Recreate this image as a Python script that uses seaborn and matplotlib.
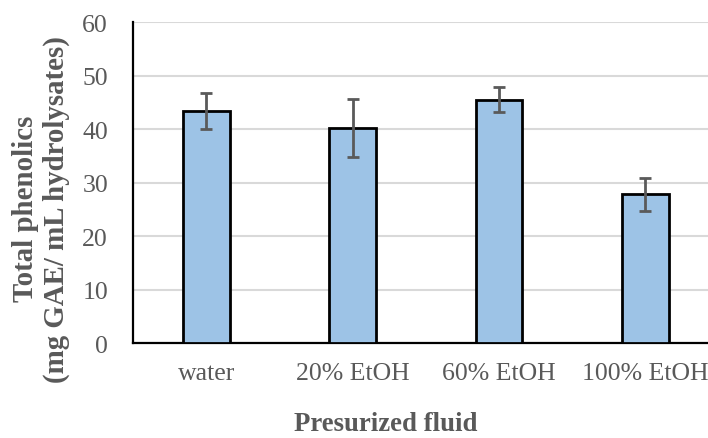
import matplotlib
matplotlib.use("Agg")
import matplotlib.pyplot as plt
import seaborn as sns
import numpy as np
import pandas as pd

categories = ["water", "20% EtOH", "60% EtOH", "100% EtOH"]
values = [43.4, 40.2, 45.5, 27.8]
errors = [3.4, 5.4, 2.3, 3.1]
yticks = [0, 10, 20, 30, 40, 50, 60]

sns.set_theme(style="white")
plt.rcParams['font.family'] = ['Liberation Serif', 'DejaVu Serif']

txt = "#595959"
fig = plt.figure(figsize=(7.08, 4.39), dpi=100)
ax = fig.add_axes([0.188, 0.2164, 1.0148 - 0.188, 0.9476 - 0.2164])

df = pd.DataFrame({"cat": categories, "val": values})
sns.barplot(data=df, x="cat", y="val", ax=ax, width=0.32, color="#9dc3e6",
            saturation=1, edgecolor="black", linewidth=2, zorder=3)
ax.errorbar(np.arange(len(categories)), values, yerr=errors, fmt="none",
            ecolor="#5a5a5a", elinewidth=2, capsize=4.3, capthick=2, zorder=4)

ax.set_xlim(-0.5, 3.5)
ax.set_ylim(0, 60)
ax.set_yticks(yticks)
ax.yaxis.grid(True, color="#d9d9d9", linewidth=1.5, zorder=0)
ax.set_axisbelow(True)
for s in ["top", "right"]:
    ax.spines[s].set_visible(False)
for s in ["left", "bottom"]:
    ax.spines[s].set_color("black")
    ax.spines[s].set_linewidth(1.6)
ax.tick_params(axis="both", length=0, labelsize=18.5, labelcolor=txt)
ax.tick_params(axis="x", pad=14)
ax.tick_params(axis="y", pad=18)
ax.set_xlabel("Presurized fluid", fontsize=19.3, fontweight="bold", color=txt)
ax.xaxis.label.set_va("center")
ax.xaxis.set_label_coords(0.432, -0.252)
ax.set_ylabel("Total phenolics\n(mg GAE/ mL hydrolysates)", fontsize=20.8, fontweight="bold",
              color=txt, linespacing=1.2)
ax.yaxis.label.set_va("center")
ax.yaxis.set_label_coords(-0.157, 0.42)

fig.savefig("out.png", dpi=100)
